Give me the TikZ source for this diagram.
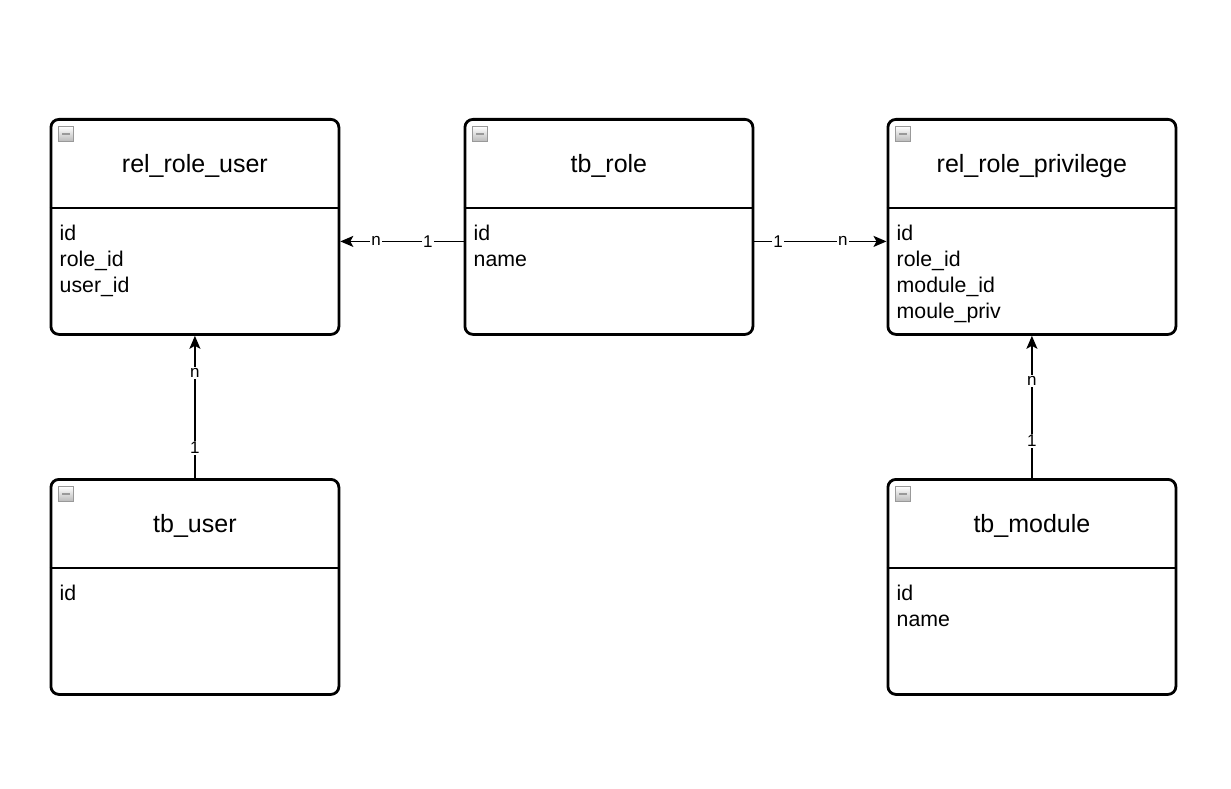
\documentclass[tikz,border=0pt]{standalone}
\usepackage{fontspec}
\setmainfont{Liberation Sans}
\usetikzlibrary{arrows.meta}

\begin{document}
\begin{tikzpicture}[x=1pt,y=-1pt,
  tbl/.style={draw, line width=2.8pt, rounded corners=8pt, minimum width=288pt,
    minimum height=215pt, inner sep=0pt, anchor=north west},
  sepline/.style={line width=2.8pt},
  ttl/.style={font=\fontsize{25}{29}\selectfont, inner sep=0pt},
  flds/.style={font=\fontsize{21.3}{26}\selectfont, align=left, anchor=north west, inner sep=0pt},
  mini/.style={draw=gray!80, line width=0.8pt, top color=white, bottom color=gray!55,
    minimum size=15pt, inner sep=0pt,
    path picture={\draw[line width=1.6pt] ([xshift=-4pt]path picture bounding box.center)
      -- ([xshift=4pt]path picture bounding box.center);}},
  rel/.style={line width=1.8pt, -{Stealth[length=13pt,width=11pt,inset=3pt]}},
  card/.style={fill=white, inner sep=1.5pt, font=\fontsize{17}{19}\selectfont}]
\useasboundingbox (0,0) rectangle (1231,789);

% rel_role_user
\node[tbl] (ru) at (49.5,118) {};
\draw[sepline] ([yshift=-90pt]ru.north west) -- ([yshift=-90pt]ru.north east);
\node[mini] (ru-m) at (66,134) {};
\node[ttl] (ru-t) at ([yshift=-48pt]ru.north) {rel\_role\_user};
\node[flds] (ru-f) at ([xshift=10pt,yshift=-107pt]ru.north west) {id\\role\_id\\user\_id};

% tb_role
\node[tbl] (role) at (463.5,118) {};
\draw[sepline] ([yshift=-90pt]role.north west) -- ([yshift=-90pt]role.north east);
\node[mini] (role-m) at (480,134) {};
\node[ttl] (role-t) at ([yshift=-48pt]role.north) {tb\_role};
\node[flds] (role-f) at ([xshift=10pt,yshift=-107pt]role.north west) {id\\name};

% rel_role_privilege
\node[tbl] (rp) at (886.5,118) {};
\draw[sepline] ([yshift=-90pt]rp.north west) -- ([yshift=-90pt]rp.north east);
\node[mini] (rp-m) at (903,134) {};
\node[ttl] (rp-t) at ([yshift=-48pt]rp.north) {rel\_role\_privilege};
\node[flds] (rp-f) at ([xshift=10pt,yshift=-107pt]rp.north west) {id\\role\_id\\module\_id\\moule\_priv};

% tb_user
\node[tbl] (user) at (49.5,478) {};
\draw[sepline] ([yshift=-90pt]user.north west) -- ([yshift=-90pt]user.north east);
\node[mini] (user-m) at (66,494) {};
\node[ttl] (user-t) at ([yshift=-48pt]user.north) {tb\_user};
\node[flds] (user-f) at ([xshift=10pt,yshift=-107pt]user.north west) {id};

% tb_module
\node[tbl] (mod) at (886.5,478) {};
\draw[sepline] ([yshift=-90pt]mod.north west) -- ([yshift=-90pt]mod.north east);
\node[mini] (mod-m) at (903,494) {};
\node[ttl] (mod-t) at ([yshift=-48pt]mod.north) {tb\_module};
\node[flds] (mod-f) at ([xshift=10pt,yshift=-107pt]mod.north west) {id\\name};

% relations
\draw[rel] ([yshift=-14.5pt]role.west) -- node[card,pos=0.29]{1} node[card,pos=0.71]{n} ([yshift=-14.5pt]ru.east);
\draw[rel] ([yshift=-14.5pt]role.east) -- node[card,pos=0.18]{1} node[card,pos=0.67]{n} ([yshift=-14.5pt]rp.west);
\draw[rel] (user.north) -- node[card,pos=0.21]{1} node[card,pos=0.74]{n} (ru.south);
\draw[rel] (mod.north) -- node[card,pos=0.26]{1} node[card,pos=0.68]{n} (rp.south);
\end{tikzpicture}
\end{document}
